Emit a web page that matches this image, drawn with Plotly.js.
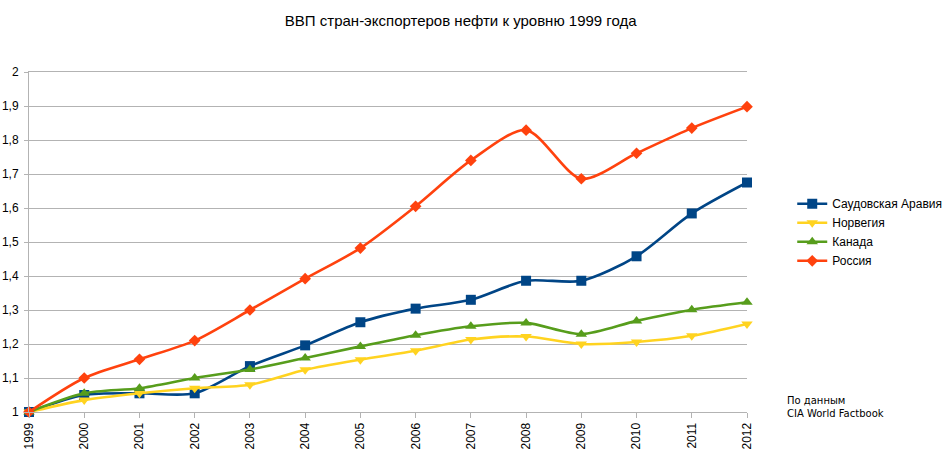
<!DOCTYPE html>
<html>
<head>
<meta charset="utf-8">
<script src="https://cdn.plot.ly/plotly-3.0.1.min.js"></script>
<style>
  body { margin: 0; background: #fff; }
  #chart { width: 948px; height: 460px; }
</style>
</head>
<body>
<div id="chart"></div>
<script>
// GDP relative to 1999
const years = [1999, 2000, 2001, 2002, 2003, 2004, 2005, 2006, 2007, 2008, 2009, 2010, 2011, 2012];
const saudi  = [1.0, 1.05, 1.055, 1.055, 1.135, 1.196, 1.264, 1.304, 1.33, 1.386, 1.386, 1.458, 1.584, 1.675];
const norway = [1.0, 1.035, 1.055, 1.07, 1.08, 1.124, 1.154, 1.18, 1.213, 1.222, 1.2, 1.206, 1.224, 1.259];
const canada = [1.0, 1.055, 1.07, 1.10, 1.125, 1.159, 1.193, 1.226, 1.252, 1.262, 1.229, 1.268, 1.301, 1.323];
const russia = [1.0, 1.10, 1.155, 1.21, 1.30, 1.392, 1.482, 1.605, 1.74, 1.829, 1.686, 1.761, 1.835, 1.898];

const seriesNames = ['Саудовская Аравия', 'Норвегия', 'Канада', 'Россия'];
const yTicks = [1, 1.1, 1.2, 1.3, 1.4, 1.5, 1.6, 1.7, 1.8, 1.9, 2];

function series(name, values, color, symbol, size) {
  return {
    x: years,
    y: values,
    name: name,
    type: 'scatter',
    mode: 'lines+markers',
    cliponaxis: false,
    line: { color: color, width: 2.6, shape: 'spline', smoothing: 0.8 },
    marker: { color: color, symbol: symbol, size: size }
  };
}

const traces = [
  series(seriesNames[0], saudi, '#004586', 'square', 10),
  series(seriesNames[1], norway, '#ffd320', 'triangle-down', 10),
  series(seriesNames[2], canada, '#579d1c', 'triangle-up', 10),
  series(seriesNames[3], russia, '#ff420e', 'diamond', 9)
];

const layout = {
  width: 948,
  height: 460,
  margin: { l: 29, r: 201, t: 72, b: 48, autoexpand: false },
  paper_bgcolor: '#ffffff',
  plot_bgcolor: '#ffffff',
  separators: ', ',
  font: { family: 'Liberation Sans, Arial, sans-serif', size: 12, color: '#000' },
  title: {
    text: 'ВВП стран-экспортеров нефти к уровню 1999 года',
    font: { size: 15, color: '#000' },
    x: 0.486, xref: 'container', y: 0.955, yanchor: 'middle'
  },
  xaxis: {
    range: [1999, 2012],
    tickmode: 'array',
    tickvals: years,
    ticktext: years.map(String),
    tickangle: -90,
    showgrid: false,
    zeroline: false,
    showline: true,
    linecolor: '#b3b3b3',
    linewidth: 1,
    mirror: true,
    ticks: 'outside',
    ticklen: 5,
    tickcolor: '#b3b3b3',
    tickfont: { size: 12 }
  },
  yaxis: {
    range: [1, 2],
    tickmode: 'array',
    tickvals: yTicks,
    ticktext: yTicks.map(v => String(v).replace('.', ',')),
    showgrid: true,
    gridcolor: '#b3b3b3',
    zeroline: false,
    showline: true,
    linecolor: '#b3b3b3',
    linewidth: 1,
    ticks: 'outside',
    ticklen: 4,
    tickcolor: '#b3b3b3',
    ticklabelstandoff: 3,
    tickfont: { size: 12 }
  },
  showlegend: true,
  legend: {
    x: 1.063, y: 0.655, xanchor: 'left', yanchor: 'top',
    font: { size: 12 },
    bgcolor: 'rgba(0,0,0,0)',
    tracegroupgap: 0,
    itemwidth: 30
  },
  annotations: [{
    text: 'По данным<br>CIA World Factbook',
    xref: 'paper', yref: 'paper',
    x: 1.053, y: 0.057, xanchor: 'left', yanchor: 'top',
    align: 'left', showarrow: false,
    font: { family: 'DejaVu Sans, sans-serif', size: 10, color: '#000' }
  }]
};

Plotly.newPlot('chart', traces, layout, { displayModeBar: false, staticPlot: true });
</script>
</body>
</html>
